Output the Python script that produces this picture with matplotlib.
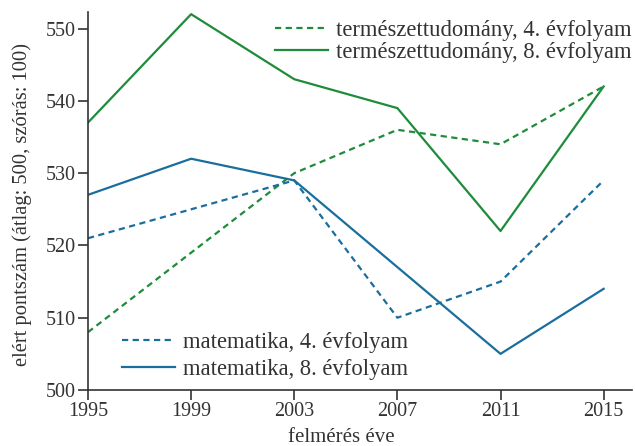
import matplotlib
matplotlib.use("Agg")
import matplotlib.pyplot as plt

years = [1995, 1999, 2003, 2007, 2011, 2015]
sci4 = [508, 519, 530, 536, 534, 542]
sci8 = [537, 552, 543, 539, 522, 542]
math4 = [521, 525, 529, 510, 515, 529]
math8 = [527, 532, 529, 517, 505, 514]
yticks = [500, 510, 520, 530, 540, 550]
labels = ["természettudomány, 4. évfolyam", "természettudomány, 8. évfolyam",
          "matematika, 4. évfolyam", "matematika, 8. évfolyam"]

green = "#1e8c3a"
blue = "#1a6e9e"
txt = "#333333"

plt.rcParams['font.family'] = ['Liberation Serif', 'DejaVu Serif']
plt.rcParams['font.size'] = 14

fig = plt.figure(figsize=(6.35, 4.46), dpi=100)
ax = fig.add_axes([88/635, 56/446, 544/635, 378/446])

dash = (0, (2.8, 2.0))
l1, = ax.plot(years, sci4, color=green, lw=1.6, linestyle=dash)
l2, = ax.plot(years, sci8, color=green, lw=1.6)
l3, = ax.plot(years, math4, color=blue, lw=1.6, linestyle=dash)
l4, = ax.plot(years, math8, color=blue, lw=1.6)

ax.set_xlim(1995, 2016.1)
ax.set_ylim(500, 552.3)
ax.set_xticks(years)
ax.set_yticks(yticks)
for s in ['top', 'right']:
    ax.spines[s].set_visible(False)
for s in ['left', 'bottom']:
    ax.spines[s].set_color(txt)
    ax.spines[s].set_linewidth(1.2)
ax.tick_params(direction='out', length=7, width=1.2, colors=txt, labelcolor=txt, labelsize=14.5, pad=2)

ax.set_xlabel("felmérés éve", color=txt, fontsize=15)
ax.xaxis.set_label_coords(0.465, -0.1)
ax.set_ylabel("elért pontszám (átlag: 500, szórás: 100)", color=txt, fontsize=14.8)
ax.yaxis.set_label_coords(-0.103, 0.49)

lfs = 16.3
leg1 = ax.legend([l1, l2], labels[:2], loc='upper right', bbox_to_anchor=(1.012, 0.997),
                 frameon=False, handlelength=2.35, handletextpad=0.36, labelspacing=0.05,
                 borderaxespad=0.0, borderpad=0.3, fontsize=lfs, labelcolor=txt)
ax.add_artist(leg1)
ax.legend([l3, l4], labels[2:], loc='lower left', bbox_to_anchor=(0.05, 0.008),
          frameon=False, handlelength=2.35, handletextpad=0.36, labelspacing=0.28,
          borderaxespad=0.0, borderpad=0.3, fontsize=lfs, labelcolor=txt)

fig.savefig("out.png", dpi=100)
